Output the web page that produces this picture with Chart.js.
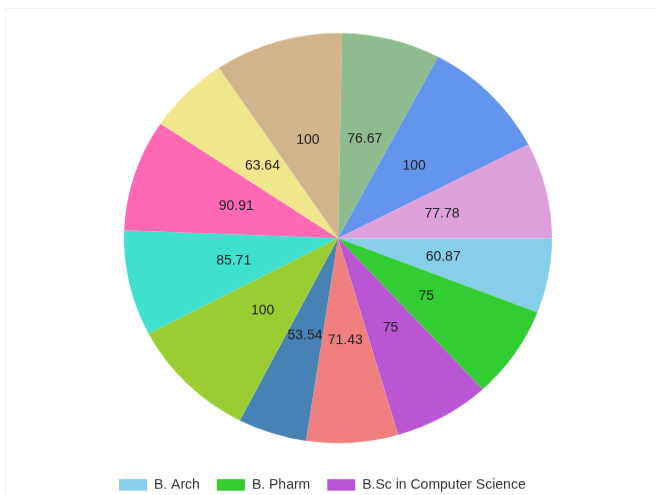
<!DOCTYPE html>
<html>
<head>
<meta charset="utf-8">
<script src="https://cdn.jsdelivr.net/npm/chart.js@4.4.1/dist/chart.umd.min.js"></script>
<style>
  html, body { margin: 0; padding: 0; background: #ffffff; overflow: hidden; }
  #frame { position: absolute; left: 4px; top: 8px; width: 700px; height: 700px;
           border-top: 1px solid #f2f2f2; border-left: 1px solid #f2f2f2; }
  #wrap { position: absolute; left: 0; top: 0; width: 656px; height: 647px;
          transform: scale(1, 0.9583); transform-origin: 0 0; }
</style>
</head>
<body>
<div id="frame"></div>
<div id="wrap"><canvas id="c" width="656" height="647"></canvas></div>
<script>
// Categories (only the first three legend entries are visible in the reference)
const categories = [
  "B. Arch", "B. Pharm", "B.Sc in Computer Science", "B.Tech in Civil Engineering",
  "B.Com", "BBA", "BCA", "B.Sc in Mathematics", "B.Tech in Mechanical Engineering",
  "M.Sc in Physics", "MBA", "MCA", "B.A. in English"
];
const values = [60.87, 75, 75, 71.43, 53.54, 100, 85.71, 90.91, 63.64, 100, 76.67, 100, 77.78];
const sliceColors = [
  "#87CEEB", "#32CD32", "#BA55D3", "#F08080", "#4682B4", "#9ACD32", "#40E0D0",
  "#FF69B4", "#F0E68C", "#D2B48C", "#8FBC8F", "#6495ED", "#DDA0DD"
];

const sliceLabels = {
  id: 'sliceLabels',
  afterDatasetsDraw(chart) {
    const ctx = chart.ctx;
    const meta = chart.getDatasetMeta(0);
    const data = chart.data.datasets[0].data;
    ctx.save();
    ctx.font = '14px "Liberation Sans", Arial, sans-serif';
    ctx.fillStyle = '#222222';
    ctx.textAlign = 'center';
    ctx.textBaseline = 'middle';
    meta.data.forEach((arc, i) => {
      const p = arc.getCenterPoint();
      ctx.fillText(String(data[i]), p.x, p.y);
    });
    ctx.restore();
  }
};

new Chart(document.getElementById('c'), {
  type: 'pie',
  data: {
    labels: categories,
    datasets: [{
      data: values,
      backgroundColor: sliceColors,
      borderWidth: 0,
      radius: 214
    }]
  },
  options: {
    responsive: false,
    animation: false,
    rotation: 90,
    layout: { padding: { left: 102, right: 82, top: 15, bottom: 0 } },
    plugins: {
      tooltip: { enabled: false },
      legend: {
        position: 'bottom',
        align: 'start',
        labels: {
          boxWidth: 28,
          boxHeight: 12,
          padding: 17,
          color: '#333333',
          font: { family: '"Liberation Sans", Arial, sans-serif', size: 14 }
        }
      }
    }
  },
  plugins: [sliceLabels]
});
</script>
</body>
</html>
